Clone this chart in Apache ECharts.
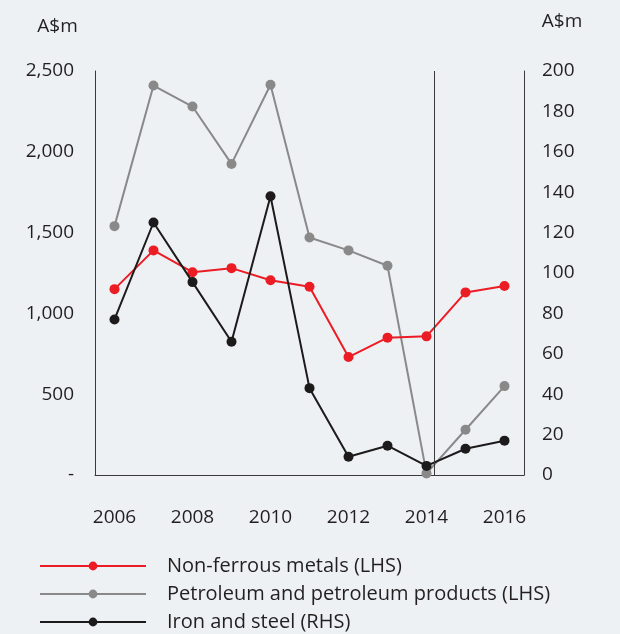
<!DOCTYPE html>
<html>
<head>
<meta charset="utf-8">
<script src="https://cdn.jsdelivr.net/npm/echarts@6/dist/echarts.min.js"></script>
<style>
  html, body { margin: 0; padding: 0; background: #edf1f4; }
  #chart { width: 620px; height: 634px; }
</style>
</head>
<body>
<div id="chart"></div>
<script>
// data
var years = ['2006', '2007', '2008', '2009', '2010', '2011', '2012', '2013', '2014', '2015', '2016'];
var nonFerrous = [1150, 1390, 1255, 1280, 1205, 1165, 730, 850, 858, 1130, 1170];
var petroleum = [1540, 2410, 2280, 1925, 2415, 1470, 1390, 1295, 10, 280, 550];
var ironSteel = [77, 125, 95.5, 66, 138, 43, 9, 14.5, 4.5, 13, 17];
var seriesNames = ['Non-ferrous metals (LHS)', 'Petroleum and petroleum products (LHS)', 'Iron and steel (RHS)'];
var leftTicks = [0, 500, 1000, 1500, 2000, 2500];
var rightTicks = [0, 20, 40, 60, 80, 100, 120, 140, 160, 180, 200];

var font = '"Open Sans", sans-serif';
var ink = '#231f20';
var axisColor = '#3a3a3a';
var dividerAt = 8.2; // vertical divider, in category index units

var chart = echarts.init(document.getElementById('chart'));

function fmtLeft(v) {
  if (v === 0) return '-';
  return v.toLocaleString('en-US');
}

chart.setOption({
  backgroundColor: '#edf1f4',
  animation: false,
  textStyle: { fontFamily: font, color: ink },
  grid: { left: 95, right: 96, top: 71, bottom: 159 },
  legend: {
    orient: 'vertical',
    left: 39,
    top: 552,
    height: 90,
    padding: 0,
    itemWidth: 106,
    itemHeight: 11,
    itemGap: 0,
    data: seriesNames,
    textStyle: { fontFamily: font, fontSize: 20, color: ink, lineHeight: 28, padding: [0, 0, 0, 16] }
  },
  xAxis: [{
    type: 'category',
    data: years,
    boundaryGap: true,
    axisTick: { show: false },
    axisLine: { lineStyle: { color: axisColor, width: 1 } },
    axisLabel: { interval: 1, margin: 33, fontSize: 19, color: ink, fontFamily: font }
  }, {
    type: 'value',
    min: -0.5,
    max: 10.5,
    show: false
  }],
  yAxis: [{
    type: 'value',
    min: leftTicks[0],
    max: leftTicks[leftTicks.length - 1],
    interval: leftTicks[1] - leftTicks[0],
    name: 'A$m',
    nameLocation: 'end',
    nameGap: 44,
    nameTextStyle: { fontSize: 19, color: ink, fontFamily: font, align: 'center', verticalAlign: 'middle', padding: [0, 75, 0, 0] },
    splitLine: { show: false },
    axisTick: { show: false },
    axisLine: { show: true, onZero: false, lineStyle: { color: axisColor, width: 1 } },
    axisLabel: { margin: 21, fontSize: 19, color: ink, fontFamily: font, padding: [8, 0, 0, 0], formatter: fmtLeft }
  }, {
    type: 'value',
    min: rightTicks[0],
    max: rightTicks[rightTicks.length - 1],
    interval: rightTicks[1] - rightTicks[0],
    name: 'A$m',
    nameLocation: 'end',
    nameGap: 49,
    nameTextStyle: { fontSize: 19, color: ink, fontFamily: font, align: 'center', verticalAlign: 'middle', padding: [0, 0, 0, 76] },
    splitLine: { show: false },
    axisTick: { show: false },
    axisLine: { show: true, onZero: false, lineStyle: { color: axisColor, width: 1 } },
    axisLabel: { margin: 18, fontSize: 19, color: ink, fontFamily: font, padding: [8, 0, 0, 0] }
  }],
  series: [
    {
      name: seriesNames[0],
      type: 'line',
      z: 3,
      data: nonFerrous,
      symbol: 'circle',
      symbolSize: 10,
      lineStyle: { color: '#ec1c24', width: 2 },
      itemStyle: { color: '#ec1c24' }
    },
    {
      name: seriesNames[1],
      type: 'line',
      z: 2,
      data: petroleum,
      symbol: 'circle',
      symbolSize: 10,
      lineStyle: { color: '#898989', width: 2 },
      itemStyle: { color: '#898989' }
    },
    {
      name: seriesNames[2],
      type: 'line',
      z: 4,
      yAxisIndex: 1,
      data: ironSteel,
      symbol: 'circle',
      symbolSize: 10,
      lineStyle: { color: '#1c1a1a', width: 2 },
      itemStyle: { color: '#1c1a1a' }
    },
    {
      type: 'line',
      xAxisIndex: 1,
      yAxisIndex: 0,
      data: [],
      silent: true,
      markLine: {
        silent: true,
        symbol: 'none',
        label: { show: false },
        lineStyle: { color: axisColor, type: 'solid', width: 1 },
        data: [{ xAxis: dividerAt }]
      }
    }
  ]
});
</script>
</body>
</html>
